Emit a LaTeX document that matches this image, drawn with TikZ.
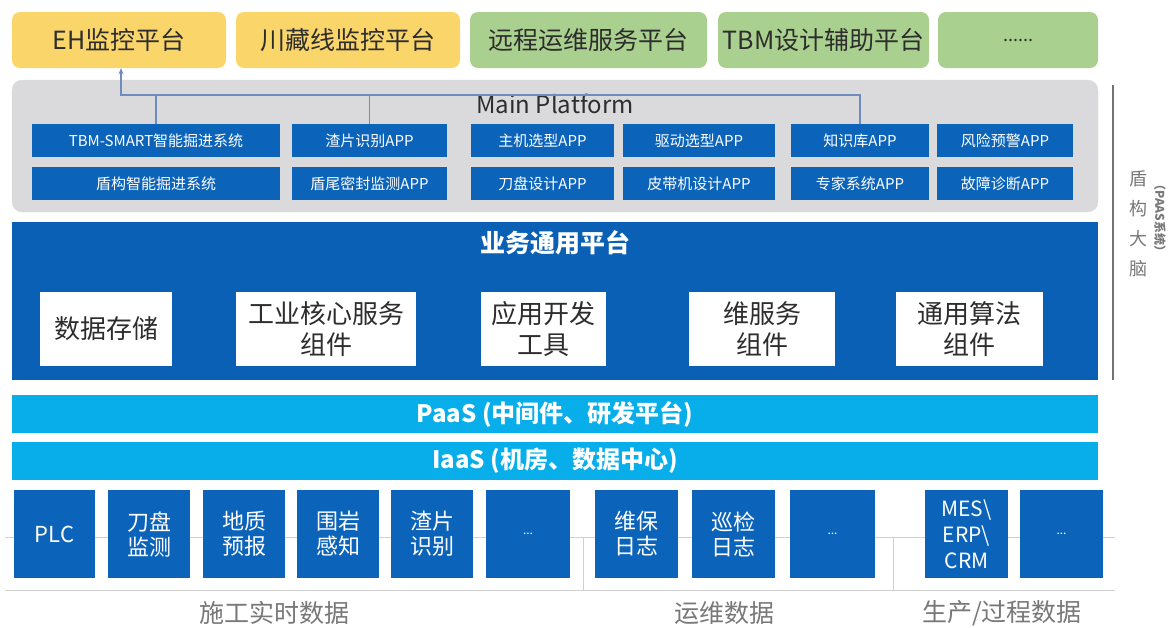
\documentclass[tikz,border=0pt]{standalone}
\usepackage{fontspec}
\setmainfont{Noto Sans CJK SC}
\usetikzlibrary{arrows.meta}
\definecolor{platy}{RGB}{250,213,105}
\definecolor{platg}{RGB}{169,208,142}
\definecolor{mpgray}{RGB}{218,218,220}
\definecolor{appblue}{RGB}{12,100,186}
\definecolor{bizblue}{RGB}{10,96,180}
\definecolor{skyblue}{RGB}{8,174,234}
\definecolor{linkblue}{RGB}{110,140,190}
\definecolor{txtgray}{RGB}{120,120,120}
\definecolor{txtdark}{RGB}{45,45,45}

\begin{document}
\begin{tikzpicture}[x=1pt,y=-1pt,
  plat/.style={rounded corners=8pt,minimum height=56pt,inner sep=0pt,text=txtdark,font=\fontsize{25}{29}\selectfont},
  app/.style={fill=appblue,text=white,minimum height=33pt,inner sep=0pt,font=\fontsize{15}{17}\selectfont},
  comp/.style={fill=white,text=txtdark,minimum height=74pt,inner sep=0pt,align=center,font=\fontsize{26}{31}\selectfont},
  band/.style={fill=skyblue,text=white,minimum width=1086pt,minimum height=38pt,inner sep=0pt,font=\bfseries\fontsize{24}{28}\selectfont},
  src/.style={fill=appblue,text=white,minimum height=88pt,inner sep=0pt,align=center,font=\fontsize{22}{25}\selectfont},
  grp/.style={text=txtgray,font=\fontsize{25}{29}\selectfont},
  link/.style={draw=linkblue,line width=1.2pt},
  frame/.style={draw=black!18,line width=0.8pt}]
\useasboundingbox (0,0) rectangle (1170,627);

\node[plat,fill=platy,minimum width=214pt] (eh) at (119,40) {EH监控平台};
\node[plat,fill=platy,minimum width=224pt] (czx) at (348,40) {川藏线监控平台};
\node[plat,fill=platg,minimum width=237pt] (ops) at (588.5,40) {远程运维服务平台};
\node[plat,fill=platg,minimum width=211pt] (tbm) at (823.5,40) {TBM设计辅助平台};
\node[plat,fill=platg,minimum width=160pt,font=\fontsize{18}{22}\selectfont] (more) at (1018,40) {......};

\node[fill=mpgray,draw=black!12,rounded corners=10pt,minimum width=1086pt,minimum height=132pt] (mp) at (555,146) {};
\node[text=txtdark,anchor=base,font=\fontsize{24}{28}\selectfont] (mpt) at (555,113) {Main Platform};

\node[app,minimum width=248pt] (a11) at (156,140.5) {TBM-SMART智能掘进系统};
\node[app,minimum width=155pt] (a12) at (369.5,140.5) {渣片识别APP};
\node[app,minimum width=143pt] (a13) at (542.5,140.5) {主机选型APP};
\node[app,minimum width=152pt] (a14) at (699,140.5) {驱动选型APP};
\node[app,minimum width=138pt] (a15) at (860,140.5) {知识库APP};
\node[app,minimum width=136pt] (a16) at (1005,140.5) {风险预警APP};
\node[app,minimum width=248pt] (a21) at (156,183.5) {盾构智能掘进系统};
\node[app,minimum width=155pt] (a22) at (369.5,183.5) {盾尾密封监测APP};
\node[app,minimum width=143pt] (a23) at (542.5,183.5) {刀盘设计APP};
\node[app,minimum width=152pt] (a24) at (699,183.5) {皮带机设计APP};
\node[app,minimum width=138pt] (a25) at (860,183.5) {专家系统APP};
\node[app,minimum width=136pt] (a26) at (1005,183.5) {故障诊断APP};

\coordinate (bus) at (121,95);
\draw[link,-{Stealth[length=6pt,width=5pt]}] (a15.north) |- (bus) -- (bus |- eh.south);
\draw[link] (a11.north) -- (a11.north |- bus);
\draw[link] (a12.north) -- (a12.north |- bus);

\node[fill=bizblue,minimum width=1086pt,minimum height=158pt] (biz) at (555,301) {};
\node[text=white,font=\bfseries\fontsize{25}{29}\selectfont] (bizt) at (555,243) {业务通用平台};
\node[comp,minimum width=132pt] (c1) at (106,329) {数据存储};
\node[comp,minimum width=180pt] (c2) at (326,329) {工业核心服务\\组件};
\node[comp,minimum width=125pt] (c3) at (543.5,329) {应用开发\\工具};
\node[comp,minimum width=146pt] (c4) at (762,329) {维服务\\组件};
\node[comp,minimum width=147pt] (c5) at (969.5,329) {通用算法\\组件};

\node[band] (paas) at (555,414) {PaaS (中间件、研发平台)};
\node[band] (iaas) at (555,461) {IaaS (机房、数据中心)};

\draw[frame] (5,537) -- (1115,537) (5,590) -- (1115,590)
  (583,537) -- (583,590) (893,537) -- (893,590);

\node[src,minimum width=81pt] (s1) at (54.5,534) {PLC};
\node[src,minimum width=82pt] (s2) at (149,534) {刀盘\\监测};
\node[src,minimum width=82pt] (s3) at (244,534) {地质\\预报};
\node[src,minimum width=82pt] (s4) at (338,534) {围岩\\感知};
\node[src,minimum width=82pt] (s5) at (432,534) {渣片\\识别};
\node[src,minimum width=84pt,font=\fontsize{12}{14}\selectfont] (s6) at (528,534) {...};
\node[src,minimum width=83pt] (s7) at (636.5,534) {维保\\日志};
\node[src,minimum width=83pt] (s8) at (733.5,534) {巡检\\日志};
\node[src,minimum width=85pt,font=\fontsize{12}{14}\selectfont] (s9) at (832.5,534) {...};
\node[src,minimum width=83pt,font=\fontsize{21}{26}\selectfont] (s10) at (966.5,534) {MES\textbackslash\\ERP\textbackslash\\CRM};
\node[src,minimum width=83pt,font=\fontsize{12}{14}\selectfont] (s11) at (1061.5,534) {...};

\node[grp] (g1) at (274,613) {施工实时数据};
\node[grp] (g2) at (724,613) {运维数据};
\node[grp] (g3) at (1002,613) {生产/过程数据};

\draw[draw=black!55,line width=2.5pt] (1113,85) -- (1113,380);
\node[text=txtgray,align=center,font=\fontsize{18}{30}\selectfont] (brain) at (1138,224) {盾\\构\\大\\脑};
\node[text=txtgray,rotate=-90,font=\bfseries\fontsize{12}{14}\selectfont] (paassys) at (1160,218) {（PAAS系统）};
\end{tikzpicture}
\end{document}
